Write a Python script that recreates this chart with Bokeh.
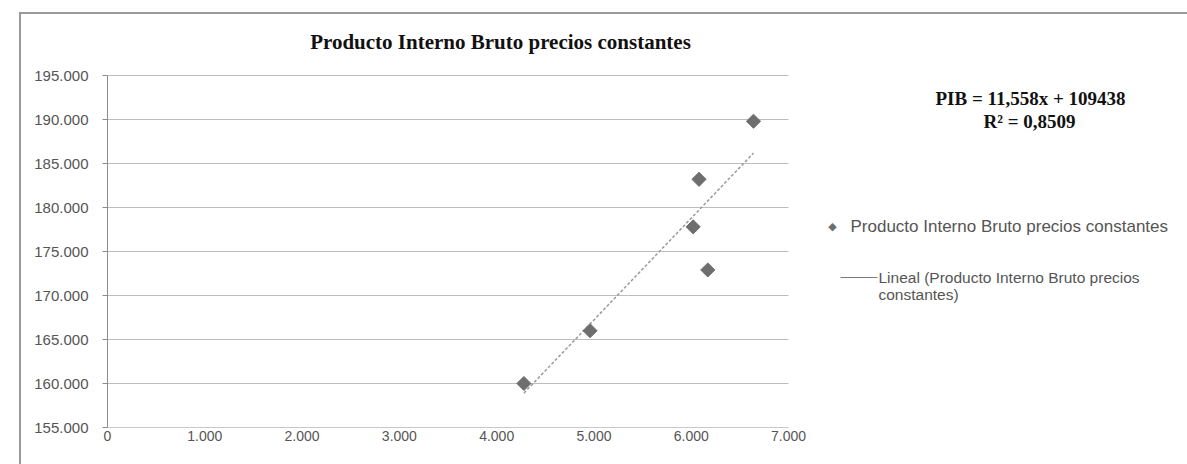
from bokeh.plotting import figure
from bokeh.models import (FixedTicker, Label, Arrow, Range1d, ColumnDataSource, Grid)
from bokeh.embed import file_html
from bokeh.resources import INLINE
import numpy as np

# ---- data ----
pib_x = [4280, 4960, 6020, 6080, 6170, 6640]
pib_y = [160000, 166000, 177800, 183200, 172900, 189800]
trend_slope = 11.558
trend_intercept = 109438
x_ticks = [0, 1000, 2000, 3000, 4000, 5000, 6000, 7000]
x_tick_labels = ["0", "1.000", "2.000", "3.000", "4.000", "5.000", "6.000", "7.000"]
y_ticks = [155000, 160000, 165000, 170000, 175000, 180000, 185000, 190000, 195000]
y_tick_labels = ["155.000", "160.000", "165.000", "170.000", "175.000",
                 "180.000", "185.000", "190.000", "195.000"]
title_text = "Producto Interno Bruto precios constantes"
series_name = "Producto Interno Bruto precios constantes"
trend_name_1 = "Lineal (Producto Interno Bruto precios"
trend_name_2 = "constantes)"
eq_line1 = "PIB = 11,558x + 109438"
eq_line2 = "R\u00b2 = 0,8509"

XMIN, XMAX, YMIN, YMAX = 0, 7000, 155000, 195000

# ---- layout (page pixels) ----
OX, OY = 21, 14            # canvas origin on the page (after margin + border)
W, H = 1187 - OX, 464 - OY
FRAME_L_PAGE = 107         # page x of value 0
FRAME_B_PAGE = 427         # page y of value 155000
PX_X = 97.29 / 1000        # px per x unit
PX_Y = 8.8 / 1000          # px per y unit
FL = FRAME_L_PAGE - OX
FB = (OY + H) - FRAME_B_PAGE
FW = W - FL
FH = H - FB
x_end = XMIN + FW / PX_X
y_end = YMIN + FH / PX_Y

def dx(page_x):
    return XMIN + (page_x - FRAME_L_PAGE) / PX_X

def dy(page_y):
    return YMIN + (FRAME_B_PAGE - page_y) / PX_Y

p = figure(output_backend="svg", toolbar_location=None,
           x_range=Range1d(XMIN, x_end), y_range=Range1d(YMIN, y_end),
           frame_width=FW, frame_height=FH,
           min_border_left=FL, min_border_bottom=FB,
           min_border_right=0, min_border_top=0)
p.outline_line_color = None
p.background_fill_color = "white"
p.border_fill_color = "white"
try:
    p.margin = (12, 0, 0, 19)
except Exception:
    pass
try:
    p.styles = {"border-left": "2px solid #9a9a9a", "border-top": "2px solid #9a9a9a"}
except Exception:
    pass

# axes
p.xaxis.ticker = FixedTicker(ticks=x_ticks)
p.xaxis.major_label_overrides = {t: l for t, l in zip(x_ticks, x_tick_labels)}
p.xaxis.bounds = (XMIN, XMAX)
p.yaxis.ticker = FixedTicker(ticks=y_ticks)
p.yaxis.major_label_overrides = {t: l for t, l in zip(y_ticks, y_tick_labels)}
p.yaxis.bounds = (YMIN, YMAX)
for ax in (p.xaxis, p.yaxis):
    ax.major_label_text_font = "Liberation Sans"
    ax.major_label_text_color = "#555555"
    ax.minor_tick_line_color = None
    ax.major_tick_in = 0
p.xaxis.major_label_text_font_size = "14px"
p.yaxis.major_label_text_font_size = "15px"
p.xaxis.major_tick_out = 0
p.xaxis.axis_line_color = "#c8c8c8"
p.xaxis.major_label_standoff = 3
p.yaxis.axis_line_color = "#8c8c8c"
p.yaxis.major_tick_line_color = "#8c8c8c"
p.yaxis.major_tick_out = 5
p.yaxis.major_label_standoff = 14
p.xgrid.grid_line_color = None

if "cross_bounds" in Grid.properties():
    p.ygrid.ticker = FixedTicker(ticks=y_ticks)
    p.ygrid.bounds = (YMIN, YMAX)
    p.ygrid.cross_bounds = (XMIN, XMAX)
    p.ygrid.grid_line_color = "#bdbdbd"
else:
    p.ygrid.grid_line_color = None
    p.segment(x0=[XMIN] * len(y_ticks), x1=[XMAX] * len(y_ticks), y0=y_ticks, y1=y_ticks,
              line_color="#bdbdbd", line_width=1)

# trendline over the data range
tx = np.array([min(pib_x), max(pib_x)], dtype=float)
ty = trend_slope * tx + trend_intercept
p.line(tx, ty, line_color="#9a9a9a", line_width=1.5, line_dash="3 2")

# data points
src = ColumnDataSource(dict(x=pib_x, y=pib_y))
p.scatter("x", "y", source=src, marker="square", angle=np.pi / 4, size=10,
          fill_color="#6e6e6e", line_color="#6e6e6e")

# title
p.add_layout(Label(x=dx(500), y=dy(41), text=title_text, text_align="center",
                   text_baseline="middle", text_font="Liberation Serif",
                   text_font_style="bold", text_font_size="21px", text_color="#111111"))

# equation
p.add_layout(Label(x=dx(1030), y=dy(98), text=eq_line1, text_align="center",
                   text_baseline="middle", text_font="Liberation Serif",
                   text_font_style="bold", text_font_size="19px", text_color="#111111"))
p.add_layout(Label(x=dx(1029), y=dy(121), text=eq_line2, text_align="center",
                   text_baseline="middle", text_font="Liberation Serif",
                   text_font_style="bold", text_font_size="19px", text_color="#111111"))

# legend
p.add_layout(Label(x=dx(832), y=dy(226), text="\u25c6", text_align="center",
                   text_baseline="middle", text_font="DejaVu Sans",
                   text_font_size="11px", text_color="#6e6e6e"))
p.add_layout(Label(x=dx(850), y=dy(226), text=series_name, text_align="left",
                   text_baseline="middle", text_font="Liberation Sans",
                   text_font_size="17px", text_color="#555555"))
p.add_layout(Arrow(x_start=dx(840), y_start=dy(277), x_end=dx(877), y_end=dy(277),
                   start=None, end=None, line_color="#7a7a7a", line_width=1.2))
p.add_layout(Label(x=dx(878), y=dy(277), text=trend_name_1, text_align="left",
                   text_baseline="middle", text_font="Liberation Sans",
                   text_font_size="15.5px", text_color="#555555"))
p.add_layout(Label(x=dx(878), y=dy(294), text=trend_name_2, text_align="left",
                   text_baseline="middle", text_font="Liberation Sans",
                   text_font_size="15.5px", text_color="#555555"))

open("out.html", "w").write(file_html(p, INLINE))
